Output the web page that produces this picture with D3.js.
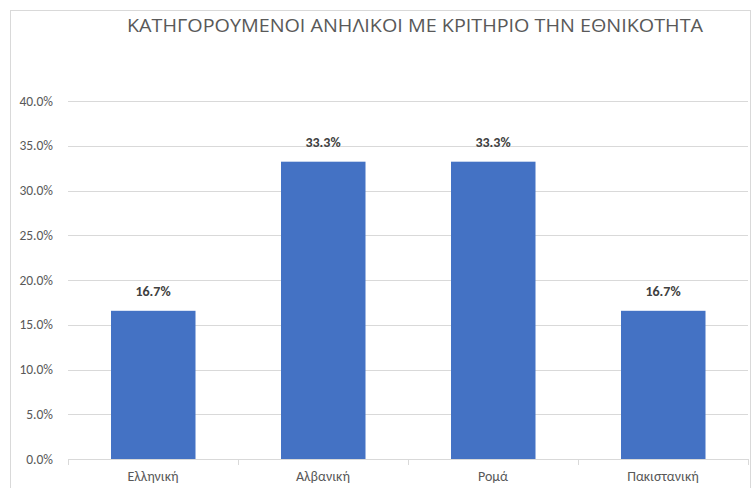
<!DOCTYPE html>
<html><head><meta charset="utf-8">
<script src="https://cdn.jsdelivr.net/npm/d3@7"></script>
<style>body{margin:0;background:#fff}svg{display:block}</style>
</head><body>
<svg id="c" width="755" height="488"></svg>
<script>
const categories = ["Ελληνική", "Αλβανική", "Ρομά", "Πακιστανική"];
const values = [0.1667, 0.3333, 0.3333, 0.1667];
const yTicks = [0, 0.05, 0.10, 0.15, 0.20, 0.25, 0.30, 0.35, 0.40];
const title = "ΚΑΤΗΓΟΡΟΥΜΕΝΟΙ ΑΝΗΛΙΚΟΙ ΜΕ ΚΡΙΤΗΡΙΟ ΤΗΝ ΕΘΝΙΚΟΤΗΤΑ";

const svg = d3.select("#c");
const font = "Calibri, Carlito, 'Liberation Sans', Arial, sans-serif";

svg.append("rect").attr("x",10.5).attr("y",10.5).attr("width",740).attr("height",490)
  .attr("fill","#fff").attr("stroke","#d9d9d9");

const x = d3.scaleBand().domain(categories).range([68,748]).paddingInner(0.5).paddingOuter(0.25);
const y = d3.scaleLinear().domain([0,0.4]).range([459,101]);

// gridlines
svg.append("g").selectAll("line").data(yTicks.filter(d=>d>0)).join("line")
  .attr("x1",68).attr("x2",748).attr("y1",d=>Math.round(y(d))+0.5).attr("y2",d=>Math.round(y(d))+0.5)
  .attr("stroke","#d9d9d9").attr("stroke-width",1);

// y labels
const fmt = d3.format(".1%");
svg.append("g").selectAll("text").data(yTicks).join("text")
  .attr("x",53).attr("y",d=>y(d)+4.5).attr("text-anchor","end")
  .attr("font-family",font).attr("font-size",13.5).attr("fill","#595959")
  .text(d=>fmt(d));

// bars
svg.append("g").selectAll("rect").data(values).join("rect")
  .attr("x",(d,i)=>x(categories[i])+0.5).attr("width",x.bandwidth()-0.5)
  .attr("y",d=>y(d)+1).attr("height",d=>y(0)-y(d)-1)
  .attr("fill","#4472c4");

// x axis line and ticks
const xa = svg.append("g");
xa.append("line").attr("x1",68).attr("x2",748).attr("y1",459.5).attr("y2",459.5).attr("stroke","#d9d9d9");
const step = x.step();
xa.selectAll("line.t").data(d3.range(categories.length+1)).join("line").attr("class","t")
  .attr("x1",i=>68+i*step+0.5).attr("x2",i=>68+i*step+0.5).attr("y1",459).attr("y2",465)
  .attr("stroke","#d9d9d9");
xa.selectAll("text").data(categories).join("text")
  .attr("x",d=>x(d)+x.bandwidth()/2).attr("y",481).attr("text-anchor","middle")
  .attr("font-family",font).attr("font-size",14).attr("fill","#595959").text(d=>d);

// value labels
svg.append("g").selectAll("text").data(values).join("text")
  .attr("x",(d,i)=>x(categories[i])+x.bandwidth()/2).attr("y",d=>y(d)-14)
  .attr("text-anchor","middle").attr("font-family",font).attr("font-size",14)
  .attr("font-weight","bold").attr("fill","#404040").text(d=>fmt(d));

// title
svg.append("text").attr("x",415).attr("y",32).attr("text-anchor","middle")
  .attr("font-family","'Liberation Sans Narrow', 'Open Sans', sans-serif").attr("font-size",18.5)
  .attr("fill","#595959").attr("textLength",576).attr("lengthAdjust","spacingAndGlyphs").text(title);
</script>
</body></html>
